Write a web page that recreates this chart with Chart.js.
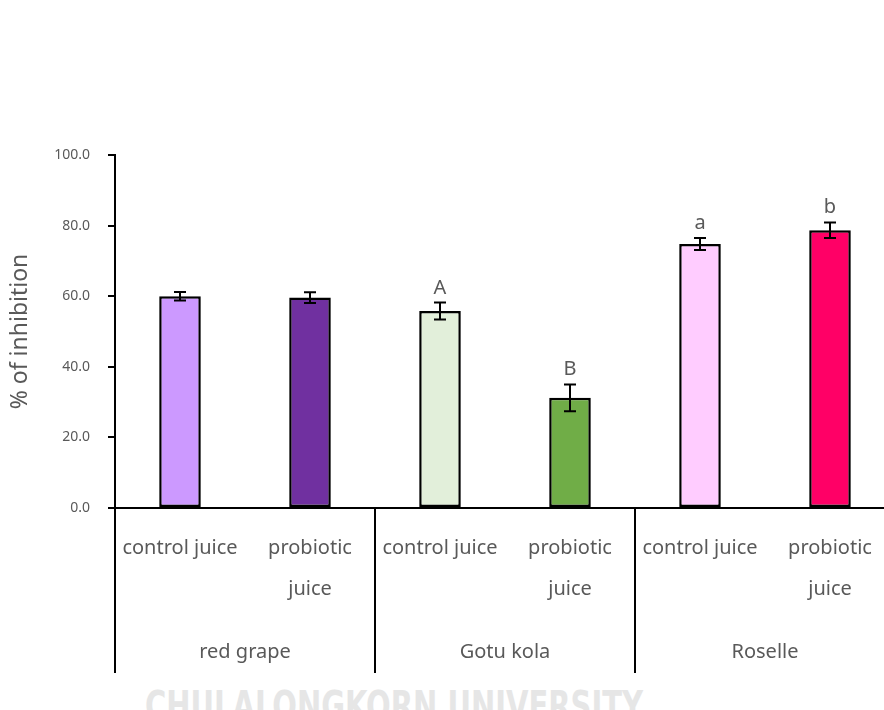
<!DOCTYPE html>
<html>
<head>
<meta charset="utf-8">
<script src="https://cdn.jsdelivr.net/npm/chart.js@4.4.1/dist/chart.umd.min.js"></script>
<style>
  html, body { margin: 0; padding: 0; background: #fff; overflow: hidden; }
  #wrap { position: relative; width: 910px; height: 710px; }
  #chart { position: absolute; left: 0; top: 0; }
  #watermark { position: absolute; left: 0; top: 0; pointer-events: none; }
</style>
</head>
<body>
<div id="wrap">
  <svg id="watermark" width="884" height="710">
    <text x="145" y="720" textLength="498" lengthAdjust="spacingAndGlyphs"
          font-family="Liberation Sans Narrow, DejaVu Sans Condensed, sans-serif"
          font-weight="bold" font-size="40" fill="#e6e6e6">CHULALONGKORN UNIVERSITY</text>
  </svg>
  <canvas id="chart" width="910" height="710"></canvas>
</div>
<script>
// juice types, two per plant
const treatments = [
  "control juice", ["probiotic", "juice"],
  "control juice", ["probiotic", "juice"],
  "control juice", ["probiotic", "juice"]
];
const plants = ["red grape", "Gotu kola", "Roselle"];

// % inhibition (mean) and its standard deviation
const inhibition = [60.0, 59.6, 55.8, 31.2, 74.8, 78.7];
const sd = [1.2, 1.5, 2.4, 3.8, 1.7, 2.2];

// significance letters above the bars
const letters = ["", "", "A", "B", "a", "b"];

const barColors = ["#CC99FF", "#7030A0", "#E2EFDA", "#70AD47", "#FFCCFF", "#FF0066"];

const textGray = "#595959";
const fontFamily = "'Noto Sans', 'DejaVu Sans', sans-serif";

// error bars + letters on top of each bar
const errorBars = {
  id: "errorBars",
  afterDatasetsDraw(chart) {
    const { ctx, scales: { y } } = chart;
    const meta = chart.getDatasetMeta(0);
    ctx.save();
    ctx.strokeStyle = "#000";
    ctx.lineWidth = 2;
    ctx.fillStyle = textGray;
    ctx.font = `20px ${fontFamily}`;
    ctx.textAlign = "center";
    ctx.textBaseline = "alphabetic";
    meta.data.forEach((bar, i) => {
      const top = y.getPixelForValue(inhibition[i] + sd[i]);
      const bottom = y.getPixelForValue(inhibition[i] - sd[i]);
      ctx.beginPath();
      ctx.moveTo(bar.x, top);
      ctx.lineTo(bar.x, bottom);
      ctx.moveTo(bar.x - 6, top);
      ctx.lineTo(bar.x + 6, top);
      ctx.moveTo(bar.x - 6, bottom);
      ctx.lineTo(bar.x + 6, bottom);
      ctx.stroke();
      if (letters[i]) {
        ctx.fillText(letters[i], bar.x, top - 9);
      }
    });
    ctx.restore();
  }
};

// vertical lines separating the plant groups below the axis
const groupLines = {
  id: "groupLines",
  afterDraw(chart) {
    const { ctx, scales: { x, x2 } } = chart;
    const edges = [x2.left];
    for (let g = 1; g < plants.length; g++) {
      edges.push((x2.getPixelForTick(g - 1) + x2.getPixelForTick(g)) / 2);
    }
    edges.push(x2.right);
    ctx.save();
    ctx.strokeStyle = "#000";
    ctx.lineWidth = 2;
    ctx.beginPath();
    edges.forEach(px => {
      ctx.moveTo(px, x.top);
      ctx.lineTo(px, x2.bottom);
    });
    ctx.stroke();
    ctx.restore();
  }
};

new Chart(document.getElementById("chart"), {
  type: "bar",
  data: {
    labels: treatments,
    datasets: [{
      data: inhibition,
      backgroundColor: barColors,
      borderColor: "#000",
      borderWidth: 2.5,
      borderSkipped: false,
      barPercentage: 0.32,
      categoryPercentage: 1
    }]
  },
  options: {
    responsive: false,
    animation: false,
    devicePixelRatio: 1,
    layout: { padding: { top: 155, right: 15, bottom: 37, left: 0 } },
    plugins: {
      legend: { display: false },
      tooltip: { enabled: false }
    },
    scales: {
      y: {
        min: 0,
        max: 100,
        ticks: {
          stepSize: 20,
          padding: 18,
          color: textGray,
          font: { family: fontFamily, size: 14 },
          callback: v => v.toFixed(1)
        },
        grid: { drawOnChartArea: false, color: "#000", lineWidth: 2, tickLength: 7 },
        border: { color: "#000", width: 2 },
        title: {
          display: true,
          text: "% of inhibition",
          color: textGray,
          font: { family: fontFamily, size: 23 },
          padding: { top: 7, bottom: 0 }
        },
        afterFit: s => { s.width = 115; }
      },
      x: {
        ticks: {
          padding: 12,
          color: textGray,
          font: { family: fontFamily, size: 20, lineHeight: 2.05 },
          maxRotation: 0,
          autoSkip: false
        },
        grid: { display: false },
        border: { color: "#000", width: 2 },
        afterFit: s => { s.height = 110; }
      },
      x2: {
        type: "category",
        axis: "x",
        position: "bottom",
        labels: plants,
        offset: true,
        weight: 1,
        ticks: {
          padding: 14,
          color: textGray,
          font: { family: fontFamily, size: 20 },
          maxRotation: 0,
          autoSkip: false
        },
        grid: { display: false },
        border: { display: false },
        afterFit: s => { s.height = 55; }
      }
    }
  },
  plugins: [errorBars, groupLines]
});
</script>
</body>
</html>
